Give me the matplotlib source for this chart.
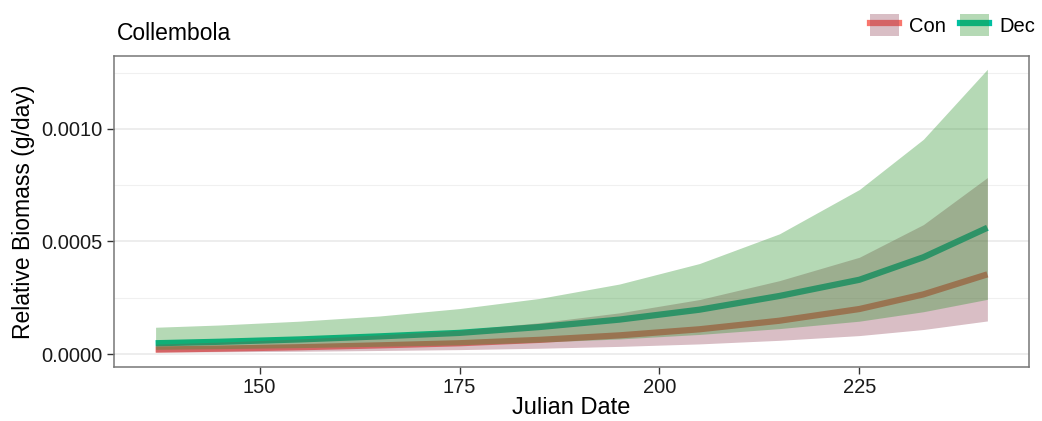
import matplotlib
matplotlib.use("Agg")
import matplotlib.pyplot as plt
from matplotlib.lines import Line2D
from matplotlib.patches import Patch
from matplotlib.ticker import MultipleLocator

plt.rcParams['font.family'] = ['Liberation Sans', 'DejaVu Sans']

# model predictions (fit with 95% band) by treatment
julian_day = [137, 145, 155, 165, 175, 185, 195, 205, 215, 225, 233, 241]

con_fit = [0.0000200, 0.0000239, 0.0000303, 0.0000386, 0.0000480, 0.0000630,
           0.0000830, 0.000110, 0.000148, 0.000200, 0.000265, 0.000354]
con_lo = [0.0000082, 0.0000098, 0.0000124, 0.0000158, 0.0000197, 0.0000258,
          0.0000340, 0.0000450, 0.0000610, 0.0000820, 0.000109, 0.000147]
con_hi = [0.0000440, 0.0000530, 0.0000670, 0.0000850, 0.000106, 0.000139,
          0.000183, 0.000242, 0.000326, 0.000430, 0.000575, 0.000784]

dec_fit = [0.0000480, 0.0000545, 0.0000649, 0.0000785, 0.0000940, 0.000120,
           0.000153, 0.000197, 0.000258, 0.000330, 0.000430, 0.000561]
dec_lo = [0.0000210, 0.0000240, 0.0000285, 0.0000345, 0.0000410, 0.0000530,
          0.0000670, 0.0000870, 0.000113, 0.000146, 0.000188, 0.000243]
dec_hi = [0.000119, 0.000129, 0.000146, 0.000169, 0.000202, 0.000247,
          0.000311, 0.000402, 0.000534, 0.000731, 0.000954, 0.001265]

groups = ['Con', 'Dec']
line_cols = {'Con': '#F8766D', 'Dec': '#00BFA0'}
fill_cols = {'Con': '#92455A', 'Dec': '#2C922C'}
band_alpha = 0.35

fig = plt.figure(figsize=(10.42, 4.21), dpi=100)
ax = fig.add_axes([0.1094, 0.1283, 0.8781, 0.7387])

series = {
    'Con': (con_fit, con_lo, con_hi),
    'Dec': (dec_fit, dec_lo, dec_hi),
}

# lines first, ribbons drawn over them
for g in groups:
    fit, lo, hi = series[g]
    ax.plot(julian_day, fit, color=line_cols[g], lw=4.5, solid_capstyle='butt', zorder=2)
for i, g in enumerate(groups):
    fit, lo, hi = series[g]
    ax.fill_between(julian_day, lo, hi, color=fill_cols[g], alpha=band_alpha, lw=0, zorder=3 + i)

ax.set_xlim(131.8, 246.2)
ax.set_ylim(-0.0000575, 0.001324)
ax.set_xticks([150, 175, 200, 225])
ax.yaxis.set_major_locator(MultipleLocator(0.0005))
ax.yaxis.set_minor_locator(MultipleLocator(0.00025))
ax.yaxis.set_major_formatter(plt.FuncFormatter(lambda v, p: f"{v:.4f}"))
ax.tick_params(axis='y', which='minor', length=0)
ax.tick_params(axis='both', which='major', labelsize=14.5, length=5, width=1,
               color='#333333', labelcolor='#1a1a1a', pad=3)

ax.grid(axis='y', which='major', color='#E8E8E8', lw=1.1, zorder=0)
ax.grid(axis='y', which='minor', color='#F0F0F0', lw=0.8, zorder=0)
ax.set_axisbelow(True)
for s in ax.spines.values():
    s.set_color('#777777')
    s.set_linewidth(1.1)

ax.set_xlabel('Julian Date', fontsize=17, labelpad=0)
ax.set_ylabel('Relative Biomass (g/day)', fontsize=16.5, labelpad=5)

fig.text(0.112, 0.905, 'Collembola', fontsize=16.5, va='baseline', ha='left')

handles = []
for g in groups:
    ln = Line2D([], [], color=line_cols[g], lw=4.5)
    pt = Patch(facecolor=fill_cols[g], alpha=band_alpha, edgecolor='none')
    handles.append((ln, pt))
fig.legend(handles, groups, loc='upper right', bbox_to_anchor=(1.005, 0.995), ncol=2,
           frameon=False, fontsize=14.5, handlelength=1.45, handleheight=1.3,
           handletextpad=0.5, columnspacing=0.7, borderaxespad=0.2)

fig.savefig('out.png', dpi=100)
